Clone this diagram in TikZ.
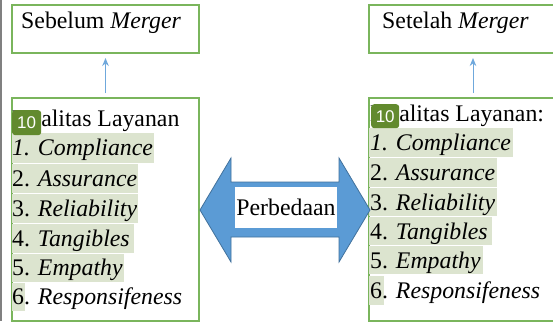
\documentclass[tikz,border=0pt]{standalone}
\usepackage{fontspec}
\setmainfont{Liberation Serif}
\newfontfamily\badgefont{Liberation Sans}
\usetikzlibrary{arrows.meta}
\definecolor{boxgreen}{HTML}{7AB55C}
\definecolor{hl}{HTML}{DCE4CF}
\definecolor{badge}{HTML}{628A2E}
\definecolor{arrowblue}{HTML}{5B9BD5}
\definecolor{arrowedge}{HTML}{41719C}
\definecolor{linkblue}{HTML}{6FA8DC}
\begin{document}
\begin{tikzpicture}[x=1pt,y=-1pt,
  greenbox/.style={draw=boxgreen, line width=2pt, inner sep=0pt, anchor=north west},
  txt/.style={anchor=base west, inner sep=0pt, font=\fontsize{23.8}{28}\selectfont},
  badgebox/.style={fill=badge, rounded corners=3pt, text=white, font=\badgefont\fontsize{17}{17}\selectfont, inner sep=0pt, anchor=north west},
  link/.style={draw=linkblue, line width=1pt, -{Stealth[length=8pt,width=6.5pt]}, shorten <=4pt, shorten >=4pt}]
\useasboundingbox (0,0) rectangle (553,321);
\clip (0,0) rectangle (553,321);
\fill[white] (0,0) rectangle (553,321);
\draw[gray, line width=2pt] (1,0) -- (1,321);
% boxes
\node[greenbox, minimum width=187pt, minimum height=48pt] (topL) at (11,4) {};
\node[greenbox, minimum width=208pt, minimum height=48pt] (topR) at (368,4) {};
\node[greenbox, minimum width=187pt, minimum height=222.5pt] (listL) at (11,97) {};
\node[greenbox, minimum width=208pt, minimum height=222.5pt] (listR) at (368,97) {};
% highlights left
\fill[hl] (12,133) rectangle (154,163);
\fill[hl] (12,164) rectangle (138,193);
\fill[hl] (12,194) rectangle (138,223);
\fill[hl] (12,224) rectangle (134,253);
\fill[hl] (12,254) rectangle (124,282);
\fill[hl] (12,283) rectangle (25,311);
% highlights right
\fill[hl] (369,128) rectangle (513,157);
\fill[hl] (369,158) rectangle (497,187);
\fill[hl] (369,188) rectangle (497,216);
\fill[hl] (369,217) rectangle (492,245);
\fill[hl] (369,246) rectangle (483,274);
\fill[hl] (369,276) rectangle (384,305);
% texts
\node[txt] (topLt) at (21,29) {Sebelum \textit{Merger}};
\node[txt] (topRt) at (382,29) {Setelah \textit{Merger}};
\node[txt] (kL) at (12,126) {Kualitas Layanan};
\node[txt] (l1) at (12,155.7) {\textit{1. Compliance}};
\node[txt] (l2) at (12,186.7) {2. \textit{Assurance}};
\node[txt] (l3) at (12,216) {3. \textit{Reliability}};
\node[txt] (l4) at (12,246) {4. \textit{Tangibles}};
\node[txt] (l5) at (12,275) {5. \textit{Empathy}};
\node[txt] (l6) at (12,304) {6. \textit{Responsifeness}};
\node[txt] (kR) at (370,121.7) {Kualitas Layanan:};
\node[txt] (r1) at (370,150) {\textit{1. Compliance}};
\node[txt] (r2) at (370,180) {2. \textit{Assurance}};
\node[txt] (r3) at (370,210) {3. \textit{Reliability}};
\node[txt] (r4) at (370,239) {4. \textit{Tangibles}};
\node[txt] (r5) at (370,268) {5. \textit{Empathy}};
\node[txt] (r6) at (370,298) {6. \textit{Responsifeness}};
% badges
\node[badgebox, minimum width=29pt, minimum height=25pt] (badgeL) at (12,110) {10};
\node[badgebox, minimum width=28pt, minimum height=24pt] (badgeR) at (371,104) {10};
% links
\draw[link] (listL.north) -- (topL.south);
\draw[link] (listR.north) -- (topR.south);
% double arrow
\draw[fill=arrowblue, draw=arrowedge, line width=0.8pt]
  (200,210) -- (231,158) -- (231,182) -- (339,182) -- (339,158) -- (370,210)
  -- (339,262) -- (339,237) -- (231,237) -- (231,262) -- cycle;
\node[fill=white, minimum width=102pt, minimum height=41pt, inner sep=0pt,
  font=\fontsize{23.8}{28}\selectfont] (diff) at (286,207.5) {Perbedaan};
\end{tikzpicture}
\end{document}
